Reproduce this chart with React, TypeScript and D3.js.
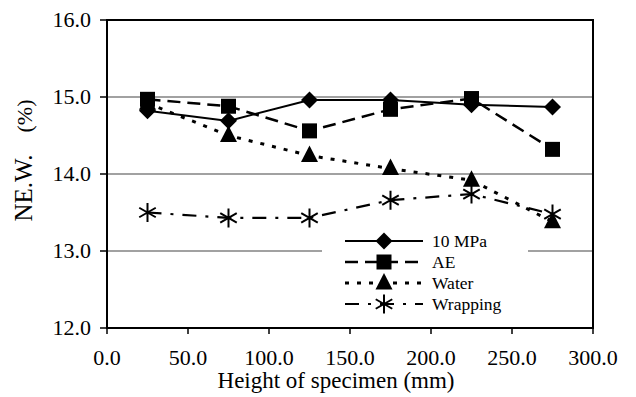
import React from 'react';
import * as d3 from 'd3';

// data
const heights = [25, 75, 125, 175, 225, 275];
const mpa10 = [14.82, 14.69, 14.96, 14.96, 14.9, 14.87];
const ae = [14.97, 14.88, 14.56, 14.84, 14.98, 14.32];
const water = [14.92, 14.5, 14.24, 14.07, 13.92, 13.38];
const wrapping = [13.5, 13.43, 13.43, 13.66, 13.74, 13.48];
const seriesNames = ['10 MPa', 'AE', 'Water', 'Wrapping'];
const xTicks = [0, 50, 100, 150, 200, 250, 300];
const yTicks = [12, 13, 14, 15, 16];

const width = 636;
const height = 397;
const marginTop = 20;
const marginRight = 43;
const marginBottom = 69;
const marginLeft = 107;
// no letter-spacing: it makes the browser drop the serif face
const serif = { fontFamily: '"Liberation Serif"' };

const x = d3.scaleLinear().domain([0, 300]).range([marginLeft, width - marginRight]);
const y = d3.scaleLinear().domain([12, 16]).range([height - marginBottom, marginTop]);

// line styles per series
const styles = [
  { dash: undefined, width: 2 },
  { dash: '13,7', width: 2.5 },
  { dash: '4,8', width: 3 },
  { dash: '14,9,3,9', width: 2.2 },
];
const allValues = [mpa10, ae, water, wrapping];

const line = d3.line<number>()
  .x((_, i) => x(heights[i]))
  .y((d) => y(d));

const Marker: React.FC<{ kind: number; cx: number; cy: number }> = ({ kind, cx, cy }) => {
  if (kind === 0) {
    return <path d={`M${cx},${cy - 8.5}L${cx + 8.5},${cy}L${cx},${cy + 8.5}L${cx - 8.5},${cy}Z`} fill="#000" />;
  }
  if (kind === 1) {
    return <rect x={cx - 7.5} y={cy - 7.5} width={15} height={15} fill="#000" />;
  }
  if (kind === 2) {
    return <path d={`M${cx},${cy - 10}L${cx + 8.5},${cy + 6.5}L${cx - 8.5},${cy + 6.5}Z`} fill="#000" />;
  }
  const r = 9.5;
  const d = `M${cx},${cy - r}L${cx},${cy + r}M${cx - r * 0.87},${cy - r * 0.5}L${cx + r * 0.87},${cy + r * 0.5}M${cx - r * 0.87},${cy + r * 0.5}L${cx + r * 0.87},${cy - r * 0.5}`;
  return <path d={d} stroke="#000" strokeWidth={2} fill="none" />;
};

const App: React.FC = () => {
  return (
    <svg
      width={width}
      height={height}
      style={{ position: 'absolute', left: 0, top: 0, background: '#fff' }}
    >
      {/* gridlines */}
      {yTicks.filter((t) => t > 12 && t < 16).map((t) => (
        <line key={t} x1={x(0)} x2={x(300)} y1={y(t)} y2={y(t)} stroke="#444" strokeWidth={1.2} />
      ))}

      {/* frame */}
      <rect x={x(0)} y={y(16)} width={x(300) - x(0)} height={y(12) - y(16)} fill="none" stroke="#000" strokeWidth={2} />

      {/* y axis */}
      {yTicks.map((t) => (
        <g key={t}>
          <line x1={x(0) - 7} x2={x(0)} y1={y(t)} y2={y(t)} stroke="#000" strokeWidth={1.5} />
          <text x={x(0) - 16} y={y(t) + 7} textAnchor="end" fontSize={22} style={serif}>
            {t.toFixed(1)}
          </text>
        </g>
      ))}

      {/* x axis */}
      {xTicks.map((t) => (
        <g key={t}>
          <line x1={x(t)} x2={x(t)} y1={y(12)} y2={y(12) + 6} stroke="#000" strokeWidth={1.5} />
          <text x={x(t)} y={365} textAnchor="middle" fontSize={22} style={serif}>
            {t.toFixed(1)}
          </text>
        </g>
      ))}

      {/* axis titles */}
      <text x={336} y={388} textAnchor="middle" fontSize={23} style={serif}>
        Height of specimen (mm)
      </text>
      <text transform="translate(32,188) rotate(-90)" textAnchor="middle" fontSize={25} style={serif}>
        NE.W.
      </text>
      <text transform="translate(32,116) rotate(-90)" textAnchor="middle" fontSize={22} style={serif}>
        (%)
      </text>

      {/* series */}
      {allValues.map((vals, i) => (
        <g key={seriesNames[i]}>
          <path d={line(vals) ?? ''} fill="none" stroke="#000" strokeWidth={styles[i].width} strokeDasharray={styles[i].dash} />
          {vals.map((v, j) => (
            <Marker key={j} kind={i} cx={x(heights[j])} cy={y(v)} />
          ))}
        </g>
      ))}

      {/* legend */}
      <rect x={322} y={229} width={206} height={88} fill="#fff" />
      {seriesNames.map((name, i) => {
        const ly = 241 + i * 21;
        return (
          <g key={name}>
            <line x1={345} x2={423} y1={ly} y2={ly} stroke="#000" strokeWidth={styles[i].width} strokeDasharray={styles[i].dash} />
            <Marker kind={i} cx={384} cy={ly} />
            <text x={432} y={ly + 6} fontSize={17.5} style={serif}>
              {name}
            </text>
          </g>
        );
      })}
    </svg>
  );
};

export default App;
